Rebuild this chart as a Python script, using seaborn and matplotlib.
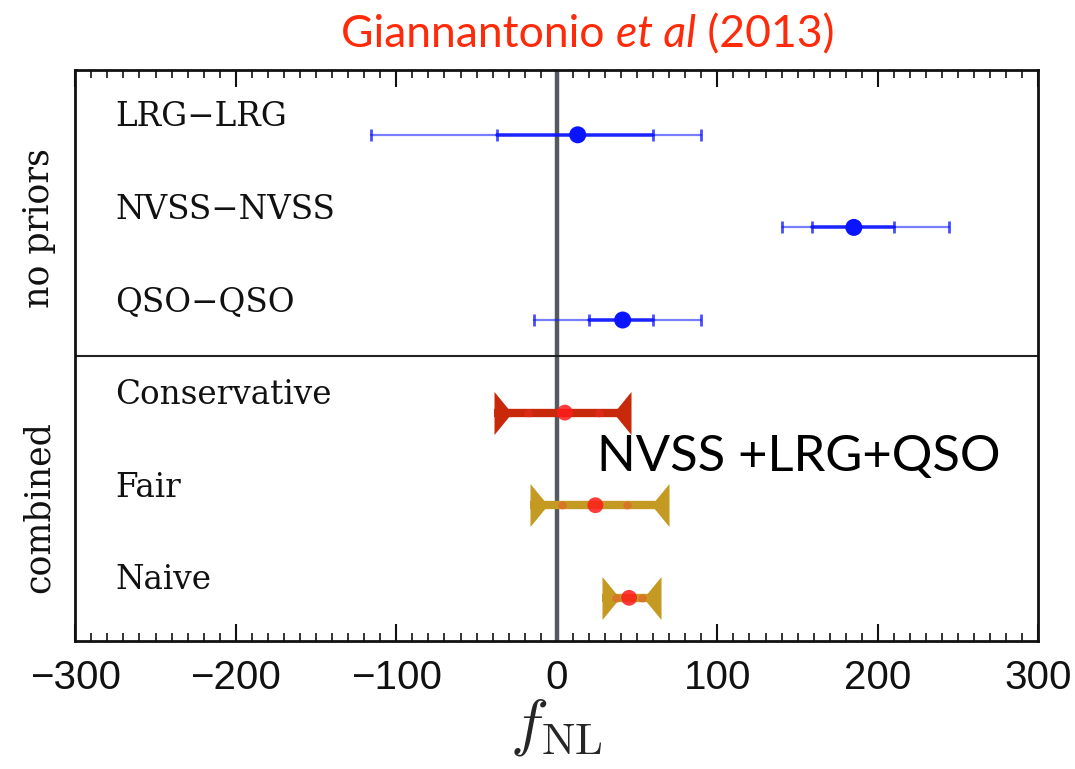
import numpy as np
import pandas as pd
import seaborn as sns
import matplotlib
matplotlib.use("Agg")
import matplotlib.pyplot as plt
from matplotlib.path import Path
from matplotlib.ticker import MultipleLocator

# ---------------- data ----------------
rows_noprior = ["LRG\u2212LRG", "NVSS\u2212NVSS", "QSO\u2212QSO"]
center_noprior = [13, 185, 41]
lo1_noprior = [-37, 159, 20]
hi1_noprior = [60, 210, 60]
lo2_noprior = [-116, 140, -14]
hi2_noprior = [90, 244, 90]

rows_comb = ["Conservative", "Fair", "Naive"]
center_comb = [5, 24, 45]
lo1_comb = [-18, 3, 37]
hi1_comb = [26, 44, 53]
bar_lo_comb = [-39, -17, 28]
bar_hi_comb = [46, 70, 65]
colors_comb = ["#C8290B", "#C49A22", "#C49A22"]

group_labels = ["no priors", "combined"]
xticks = [-300, -200, -100, 0, 100, 200, 300]
title_parts = ["Giannantonio ", "et al", " (2013)"]
annotation = "NVSS +LRG+QSO"

# ---------------- figure ----------------
sns.set_theme(style="white")
plt.rcParams["font.family"] = ["DejaVu Serif"]
plt.rcParams["mathtext.fontset"] = "cm"

fig = plt.figure(figsize=(10.75, 7.69), dpi=100)
ax = fig.add_axes([0.070, 0.166, 0.896, 0.743])

rows = rows_noprior + rows_comb
ypos = np.arange(len(rows)) + 0.70

df_np = pd.DataFrame({"row": rows_noprior, "y": ypos[:3], "c": center_noprior,
                      "lo1": lo1_noprior, "hi1": hi1_noprior,
                      "lo2": lo2_noprior, "hi2": hi2_noprior})
df_cb = pd.DataFrame({"row": rows_comb, "y": ypos[3:], "c": center_comb,
                      "lo1": lo1_comb, "hi1": hi1_comb,
                      "blo": bar_lo_comb, "bhi": bar_hi_comb, "col": colors_comb})

blue = "#0A14FF"
# no-priors error bars
for _, r in df_np.iterrows():
    ax.plot([r.lo2, r.hi2], [r.y, r.y], color=blue, lw=1.6, alpha=0.55, zorder=3)
    ax.plot([r.lo1, r.hi1], [r.y, r.y], color=blue, lw=2.6, alpha=0.85, zorder=3)
    ax.plot([r.lo2, r.lo1, r.hi1, r.hi2], [r.y] * 4, ls="none", marker="|",
            markersize=9, mew=2.0, color=blue, alpha=0.75, zorder=3)
sns.scatterplot(data=df_np, x="c", y="y", color=blue, s=150, edgecolor="none",
                ax=ax, zorder=4, legend=False)

# combined bars with triangle end caps (base at the bar end, apex pointing inward)
left_cap = Path([(0, -1), (0, 1), (0.82, 0), (0, -1)],
                [Path.MOVETO, Path.LINETO, Path.LINETO, Path.CLOSEPOLY])
right_cap = Path([(0, -1), (0, 1), (-0.82, 0), (0, -1)],
                 [Path.MOVETO, Path.LINETO, Path.LINETO, Path.CLOSEPOLY])
for _, r in df_cb.iterrows():
    ax.plot([r.blo, r.bhi], [r.y, r.y], color=r.col, lw=6, solid_capstyle="butt", zorder=3)
    ax.plot([r.blo], [r.y], marker=left_cap, markersize=31, color=r.col, mew=0, ls="none", zorder=3)
    ax.plot([r.bhi], [r.y], marker=right_cap, markersize=31, color=r.col, mew=0, ls="none", zorder=3)
    ax.plot([r.lo1, r.hi1], [r.y, r.y], ls="none", marker="o", markersize=6,
            color="#FF3030", alpha=0.35, mew=0, zorder=4)
sns.scatterplot(data=df_cb, x="c", y="y", color="#FF1A1A", s=130, alpha=0.85,
                edgecolor="none", ax=ax, zorder=5, legend=False)

# zero line and group divider
ax.axvline(0, color="#555A60", lw=3.2, zorder=2)
ax.axhline(3.09, color="#222222", lw=1.5, zorder=2)

# row labels
for y, lab in zip(ypos, rows):
    ax.text(-275, y - 0.19, lab, fontsize=23.5, family="DejaVu Serif",
            ha="left", va="center", color="#111111")

# axes styling
ax.set_xlim(-300, 300)
ax.set_ylim(6.17, 0)
ax.set_yticks([])
ax.set_xticks(xticks)
ax.set_xticklabels([f"\u2212{abs(v)}" if v < 0 else f"{v}" for v in xticks],
                   family="Liberation Sans", fontsize=29)
ax.xaxis.set_minor_locator(MultipleLocator(10))
ax.tick_params(axis="x", which="major", direction="in", length=12, width=1.5,
               top=True, bottom=True, pad=13, colors="#111111")
ax.tick_params(axis="x", which="minor", direction="in", length=6, width=1.2,
               top=True, bottom=True, colors="#111111")
for s in ax.spines.values():
    s.set_color("#111111")
    s.set_linewidth(2.0)
ax.set_xlabel(r"$f_{\mathrm{NL}}$", fontsize=46, labelpad=0)
ax.set_ylabel("")

# group labels
fig.text(0.036, 1 - 228 / 769, group_labels[0], rotation=90, fontsize=25,
         family="DejaVu Serif", ha="center", va="center", color="#111111")
fig.text(0.036, 1 - 507 / 769, group_labels[1], rotation=90, fontsize=25,
         family="DejaVu Serif", ha="center", va="center", color="#111111")

# annotation
ax.text(25, 4.18, annotation, fontsize=36.5, family="Lato", color="black",
        ha="left", va="center")

# title (mixed upright / italic)
tcol = "#FF2A0A"
fs_t = 32
t0 = fig.text(0.32, 0.945, title_parts[0], fontsize=fs_t, family="Lato",
              color=tcol, ha="left", va="baseline")
t1 = fig.text(0, 0, title_parts[1], fontsize=fs_t, family="Lato", style="italic",
              color=tcol, va="baseline")
t2 = fig.text(0, 0, title_parts[2], fontsize=fs_t, family="Lato", color=tcol,
              va="baseline")
fig.canvas.draw()
r = fig.canvas.get_renderer()
b0 = t0.get_window_extent(r)
w1 = t1.get_window_extent(r).width
w2 = t2.get_window_extent(r).width
total = b0.width + w1 + w2
W = fig.bbox.width
x0 = (588 - total / 2)
yb = 1 - 47 / 769
t0.set_position((x0 / W, yb))
t1.set_position(((x0 + b0.width) / W, yb))
t2.set_position(((x0 + b0.width + w1) / W, yb))

fig.savefig("out.png", dpi=100)
